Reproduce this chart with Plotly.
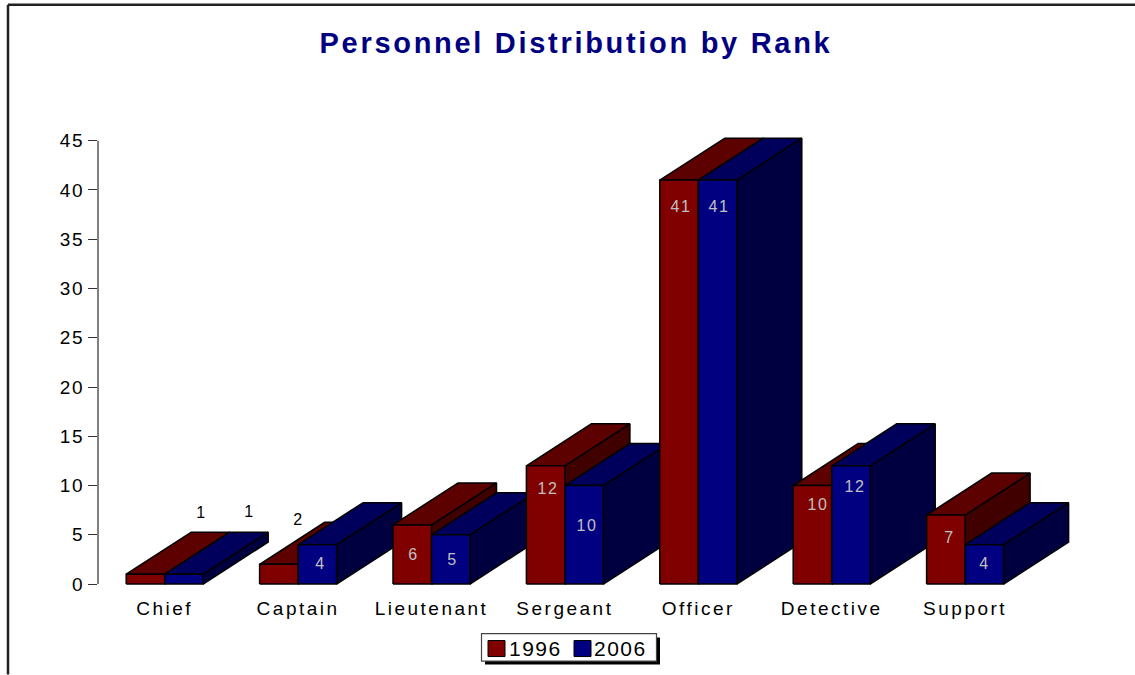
import plotly.graph_objects as go

categories = ["Chief", "Captain", "Lieutenant", "Sergeant", "Officer", "Detective", "Support"]
values_1996 = [1, 2, 6, 12, 41, 10, 7]
values_2006 = [1, 4, 5, 10, 41, 12, 4]
series_names = ["1996", "2006"]
y_ticks = [0, 5, 10, 15, 20, 25, 30, 35, 40, 45]
title_text = "Personnel Distribution by Rank"

# Pixel layout of the plot area
W, H = 1135, 675
ZERO_PX, TOP45_PX = 584.5, 141
PX_PER_Y = (ZERO_PX - TOP45_PX) / 45
Y_MIN, Y_MAX = -0.4, 47
L, R = 98, 1098
T = ZERO_PX - Y_MAX * PX_PER_Y
B = ZERO_PX - Y_MIN * PX_PER_Y
STEP_PX = 133.4
XMAX = -0.5 + (R - L) / STEP_PX
BAR_W = 38.5 / STEP_PX
DX = 65 / STEP_PX
DY = 42 / PX_PER_Y

STYLES = [
    dict(front="#800000", top="#5c0000", side="#400000"),
    dict(front="#000080", top="#00005c", side="#000040"),
]
EDGE = dict(color="#000000", width=1.5)
FONT = "Liberation Sans, Arial, sans-serif"
LIGHT = "#c0c0c0"

# label offsets in pixels from the bar's top: (dx, dy, colour)
offs_1996 = [(56, 62, "#000000"), (20, 45, "#000000"), (1, -30, LIGHT), (2, -23, LIGHT),
             (2, -26, LIGHT), (6, -19, LIGHT), (4, -22, LIGHT)]
offs_2006 = [(66, 63, "#000000"), (3, -19, LIGHT), (2, -25, LIGHT), (3, -40, LIGHT),
             (1, -26, LIGHT), (4, -21, LIGHT), (0, -19, LIGHT)]


def px(x):
    return (x - L) / (R - L)


def py(y):
    return (B - y) / (B - T)


fig = go.Figure()


def poly(xs, ys, color):
    fig.add_trace(go.Scatter(
        x=xs + xs[:1], y=ys + ys[:1], mode="lines", fill="toself", fillcolor=color,
        line=EDGE, hoverinfo="skip", showlegend=False, cliponaxis=False,
    ))


annotations = []
for i, cat in enumerate(categories):
    for s, vals in enumerate((values_1996, values_2006)):
        v = vals[i]
        x0 = i - BAR_W + s * BAR_W
        x1 = x0 + BAR_W
        st = STYLES[s]
        poly([x1, x1 + DX, x1 + DX, x1], [0, DY, v + DY, v], st["side"])
        poly([x0, x0 + DX, x1 + DX, x1], [v, v + DY, v + DY, v], st["top"])
        poly([x0, x1, x1, x0], [0, 0, v, v], st["front"])
        ox, oy, col = (offs_1996 if s == 0 else offs_2006)[i]
        annotations.append(dict(
            x=(x0 + x1) / 2, y=v, xref="x", yref="y", text=str(v), showarrow=False,
            xshift=ox, yshift=oy, xanchor="center", yanchor="middle",
            font=dict(family=FONT, size=16, color=col),
        ))

# Frame lines, y axis line, hand-built legend box
shapes = [
    dict(type="line", xref="paper", yref="paper", x0=px(8), x1=px(8), y0=py(5), y1=py(675),
         line=dict(color="#222222", width=2.5)),
    dict(type="line", xref="paper", yref="paper", x0=px(8), x1=px(1135), y0=py(5), y1=py(5),
         line=dict(color="#222222", width=2.5)),
    dict(type="line", xref="paper", yref="y", x0=0, x1=0, y0=0, y1=45,
         line=dict(color="#808080", width=2)),
    dict(type="rect", xref="paper", yref="paper", x0=px(485), x1=px(660), y0=py(638), y1=py(665),
         fillcolor="#000000", line=dict(width=0)),
    dict(type="rect", xref="paper", yref="paper", x0=px(481.5), x1=px(656.5), y0=py(634), y1=py(661.5),
         fillcolor="#ffffff", line=dict(color="#444444", width=1.2)),
]
for sx, tx, st, name in zip((488, 574), (510, 595), STYLES, series_names):
    shapes.append(dict(type="rect", xref="paper", yref="paper", x0=px(sx), x1=px(sx + 17),
                       y0=py(641), y1=py(657), fillcolor=st["front"],
                       line=dict(color="#000000", width=1)))
    annotations.append(dict(x=px(tx), y=py(649), xref="paper", yref="paper", text=name,
                            showarrow=False, xanchor="left", yanchor="middle",
                            font=dict(family=FONT, size=21, color="#000000")))

fig.update_layout(
    width=W, height=H, autosize=False,
    margin=dict(l=L, r=W - R, t=T, b=H - B),
    paper_bgcolor="#ffffff", plot_bgcolor="rgba(0,0,0,0)",
    showlegend=False, shapes=shapes, annotations=annotations,
    title=dict(
        text=title_text, xref="paper", x=px(576), xanchor="center",
        yref="container", y=(H - 43) / H, yanchor="middle",
        font=dict(family=FONT, size=29, color="#000080", weight="bold"),
    ),
    xaxis=dict(
        range=[-0.5, XMAX], tickmode="array", tickvals=list(range(len(categories))),
        ticktext=categories, showgrid=False, zeroline=False, showline=False, ticks="",
        tickfont=dict(family=FONT, size=19, color="#000000"), ticklabelstandoff=7,
    ),
    yaxis=dict(
        range=[Y_MIN, Y_MAX], tickmode="array", tickvals=y_ticks, showgrid=False, zeroline=False,
        showline=False, ticks="outside", ticklen=9,
        tickcolor="#333333", tickwidth=1,
        tickfont=dict(family=FONT, size=19, color="#000000"),
    ),
)

post = """
document.body.style.margin = '0';
document.body.style.overflow = 'hidden';
var st = document.createElement('style');
st.textContent = '.xtick text{letter-spacing:2.5px} .ytick text{letter-spacing:1.7px}' +
  ' .gtitle{letter-spacing:2.7px} .annotation-text{letter-spacing:1.5px}';
document.head.appendChild(st);
"""
fig.write_html("out.html", post_script=post, config=dict(displayModeBar=False))
